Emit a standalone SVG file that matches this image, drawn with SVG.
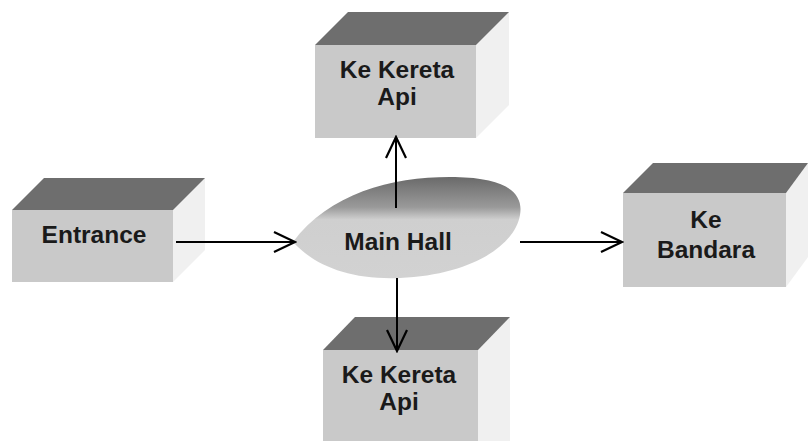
<svg xmlns="http://www.w3.org/2000/svg" width="809" height="441" viewBox="0 0 809 441">
<style>
.front{fill:#c9c9c9}
.top{fill:#6e6e6e}
.side{fill:#f0f0f0}
.lbl{font-family:"Liberation Sans",Arial,sans-serif;font-size:24.5px;font-weight:bold;fill:#1a1a1a;text-anchor:middle}
.conn{stroke:#000;stroke-width:2;fill:none}
</style>
<defs>
<marker id="arr" viewBox="0 0 24 24" refX="22" refY="12" markerWidth="24" markerHeight="24" markerUnits="userSpaceOnUse" orient="auto">
<path d="M1,2 L22,12 L1,22" fill="none" stroke="#000" stroke-width="2.2"/>
</marker>
<linearGradient id="hallg" x1="0" y1="0" x2="0" y2="1">
<stop offset="0" stop-color="#6a6a6a"/>
<stop offset="0.3" stop-color="#9a9a9a"/>
<stop offset="0.42" stop-color="#cfcfcf"/>
<stop offset="1" stop-color="#d2d2d2"/>
</linearGradient>
</defs>
<rect width="809" height="441" fill="#fff"/>
<g id="node-top">
<polygon class="side" points="476,45 509,12 509,105 476,138"/>
<polygon class="top" points="315,45 476,45 509,12 348,12"/>
<rect class="front" x="315" y="45" width="161" height="93"/>
<text class="lbl" x="397" y="78">Ke Kereta</text>
<text class="lbl" x="397" y="105">Api</text>
</g>
<g id="node-entrance">
<polygon class="side" points="173,210 205,178 205,250 173,282"/>
<polygon class="top" points="12,210 173,210 205,178 44,178"/>
<rect class="front" x="12" y="210" width="161" height="72"/>
<text class="lbl" x="94" y="243">Entrance</text>
</g>
<g id="node-hall">
<path d="M293,242 C330,192 395,176 455,177 C505,178 524,192 520,215 C515,246 470,275 400,278 C350,280 315,266 293,242 Z" fill="url(#hallg)"/>
<text class="lbl" x="398" y="250">Main Hall</text>
</g>
<g id="node-bandara">
<polygon class="side" points="786,193 808,163 808,257 786,287"/>
<polygon class="top" points="623,193 786,193 808,163 653,163"/>
<rect class="front" x="623" y="193" width="163" height="94"/>
<text class="lbl" x="706" y="228">Ke</text>
<text class="lbl" x="706" y="258">Bandara</text>
</g>
<g id="node-bottom">
<polygon class="side" points="478,350 510,317 510,441 478,441"/>
<polygon class="top" points="323,350 478,350 510,317 355,317"/>
<rect class="front" x="323" y="350" width="155" height="91"/>
<text class="lbl" x="399" y="383">Ke Kereta</text>
<text class="lbl" x="399" y="410">Api</text>
</g>
<g id="connectors">
<line class="conn" x1="176" y1="242" x2="295" y2="242" marker-end="url(#arr)"/>
<line class="conn" x1="520" y1="242" x2="622" y2="242" marker-end="url(#arr)"/>
<line class="conn" x1="396" y1="208" x2="396" y2="137" marker-end="url(#arr)"/>
<line class="conn" x1="397" y1="278" x2="397" y2="351" marker-end="url(#arr)"/>
</g>
</svg>
